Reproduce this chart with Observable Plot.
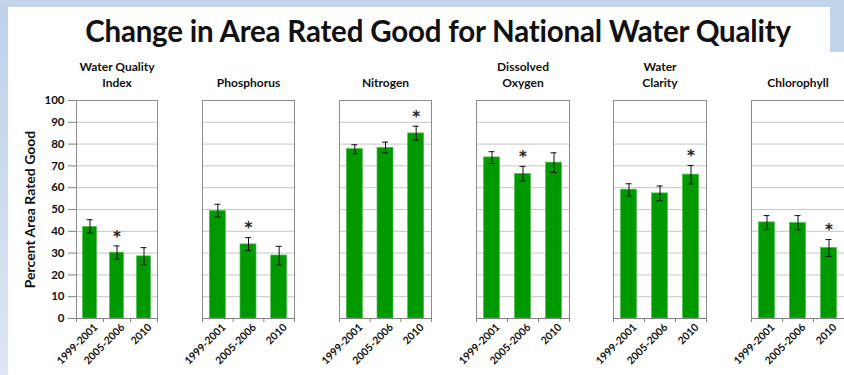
<!DOCTYPE html>
<html><head><meta charset="utf-8">
<script src="https://cdn.jsdelivr.net/npm/d3@7"></script>
<script src="https://cdn.jsdelivr.net/npm/@observablehq/plot@0.6"></script>
<style>
html,body{margin:0;padding:0;}
body{width:844px;height:375px;overflow:hidden;position:relative;background:linear-gradient(to bottom,#bed1ea,#dde6f2);font-family:Lato,sans-serif;}
#topband{position:absolute;left:0;top:0;width:844px;height:7px;background:#c2d4ea;}
#rightband{position:absolute;left:830px;top:0;width:14px;height:52px;background:#c2d4ea;}
#sheet{position:absolute;left:8px;top:7px;width:822px;height:368px;background:#fff;}
#sheet2{position:absolute;left:8px;top:52px;width:836px;height:323px;background:#fff;}
#title{position:absolute;left:38px;width:800px;top:13px;text-align:center;font-weight:bold;font-size:29.5px;color:#111;letter-spacing:-0.2px;}
.panel{position:absolute;top:50px;}
</style></head>
<body>
<div id="topband"></div><div id="rightband"></div><div id="sheet"></div><div id="sheet2"></div>
<div id="title">Change in Area Rated Good for National Water Quality</div>
<script>
// ---- data ----
const categories = ["1999-2001", "2005-2006", "2010"];
const indicators = ["Water Quality\nIndex", "Phosphorus", "Nitrogen", "Dissolved\nOxygen", "Water\nClarity", "Chlorophyll"];
const percentGood = [
  [42.0, 30.2, 28.5],
  [49.3, 34.0, 28.9],
  [77.7, 78.3, 84.9],
  [73.9, 66.3, 71.5],
  [59.1, 57.4, 66.0],
  [44.1, 43.8, 32.4]
];
const errorLow = [
  [39.2, 27.3, 24.6],
  [46.6, 31.1, 24.6],
  [75.6, 76.0, 81.8],
  [71.1, 63.1, 67.0],
  [56.2, 54.0, 61.7],
  [40.8, 40.6, 28.4]
];
const errorHigh = [
  [45.3, 33.3, 32.5],
  [52.4, 37.1, 33.1],
  [79.7, 80.9, 88.2],
  [76.5, 69.8, 76.0],
  [61.8, 60.8, 70.2],
  [47.2, 47.2, 36.2]
];
const significant = [
  [false, true, false],
  [false, true, false],
  [false, false, true],
  [false, true, false],
  [false, false, true],
  [false, false, true]
];
const yTicks = [0, 10, 20, 30, 40, 50, 60, 70, 80, 90, 100];
const gridLines = [10, 20, 30, 40, 50, 60, 70, 80, 90];
const yLabel = "Percent Area Rated Good";

// ---- layout ----
const frameLeft = [76, 202, 339, 476, 613, 751];
const frameWidth = [81, 92, 92, 93, 93, 93];
const barWidth = [14, 16, 16, 16, 16, 16];

indicators.forEach((name, k) => {
  const rows = categories.map((c, i) => ({
    i, cat: c, value: percentGood[k][i], lo: errorLow[k][i], hi: errorHigh[k][i], sig: significant[k][i]
  }));
  const mid = d => d.i + 0.5;
  const band = frameWidth[k] / categories.length;
  const inset = (band - barWidth[k]) / 2;
  const marginLeft = k === 0 ? 76 : 40;
  const marginRight = 12;
  const marks = [
    Plot.ruleY(gridLines, {stroke: "#c6c6c6", strokeWidth: 1}),
    Plot.rectY(rows, {x1: "i", x2: d => d.i + 1, y: "value", fill: "#009a00", stroke: "#4fbf4f", strokeWidth: 0.7, insetLeft: inset, insetRight: inset}),
    Plot.ruleX(rows, {x: mid, y1: "lo", y2: "hi", stroke: "#111", strokeWidth: 1}),
    Plot.ruleY(rows, {x1: mid, x2: mid, y: "hi", insetLeft: -3, insetRight: -3, stroke: "#111", strokeWidth: 1}),
    Plot.ruleY(rows, {x1: mid, x2: mid, y: "lo", insetLeft: -3, insetRight: -3, stroke: "#111", strokeWidth: 1}),
    Plot.text(rows.filter(d => d.sig), {x: mid, y: "hi", text: () => "*", dy: -9, lineAnchor: "middle", fontSize: 15, fontFamily: "DejaVu Sans", fontWeight: "bold", fill: "#222"}),
    Plot.frame({stroke: "#8c8c8c", strokeWidth: 1}),
    Plot.ruleY([0], {stroke: "#808080", strokeWidth: 1}),
    Plot.axisX({ticks: [0, 1, 2, 3], tickSize: 4, tickFormat: () => "", stroke: "#808080", label: null}),
    Plot.text(rows, {x: mid, frameAnchor: "bottom", text: "cat", rotate: -45, textAnchor: "end", lineAnchor: "middle", dx: 6, dy: 7, fontSize: 10.5, fontWeight: "bold", fill: "#111"}),
    Plot.text([name], {frameAnchor: "top", text: d => d, textAnchor: "middle", dy: -14, lineAnchor: "bottom", lineHeight: 1.3, fontSize: 12, fontWeight: "bold", fill: "#111"})
  ];
  if (k === 0) {
    marks.push(
      Plot.axisY({ticks: yTicks, tickSize: 8, tickPadding: 4, stroke: "#808080", fontSize: 11.5, fontWeight: "bold", fill: "#111", label: null}),
      Plot.text([yLabel], {frameAnchor: "left", text: d => d, rotate: -90, textAnchor: "middle", lineAnchor: "middle", dx: -46, fontSize: 14, fontWeight: "bold", fill: "#111"})
    );
  }
  const svg = Plot.plot({
    width: marginLeft + frameWidth[k] + marginRight,
    height: 325,
    marginTop: 50, marginBottom: 57, marginLeft, marginRight,
    style: {background: "transparent", fontFamily: "Lato, sans-serif", overflow: "visible", color: "#111"},
    x: {domain: [0, categories.length], axis: null},
    y: {domain: [0, 100], axis: null},
    marks
  });
  svg.classList.add("panel");
  svg.style.position = "absolute";
  svg.style.left = (frameLeft[k] - marginLeft) + "px";
  svg.style.top = "50px";
  document.body.appendChild(svg);
});
</script>
</body></html>
